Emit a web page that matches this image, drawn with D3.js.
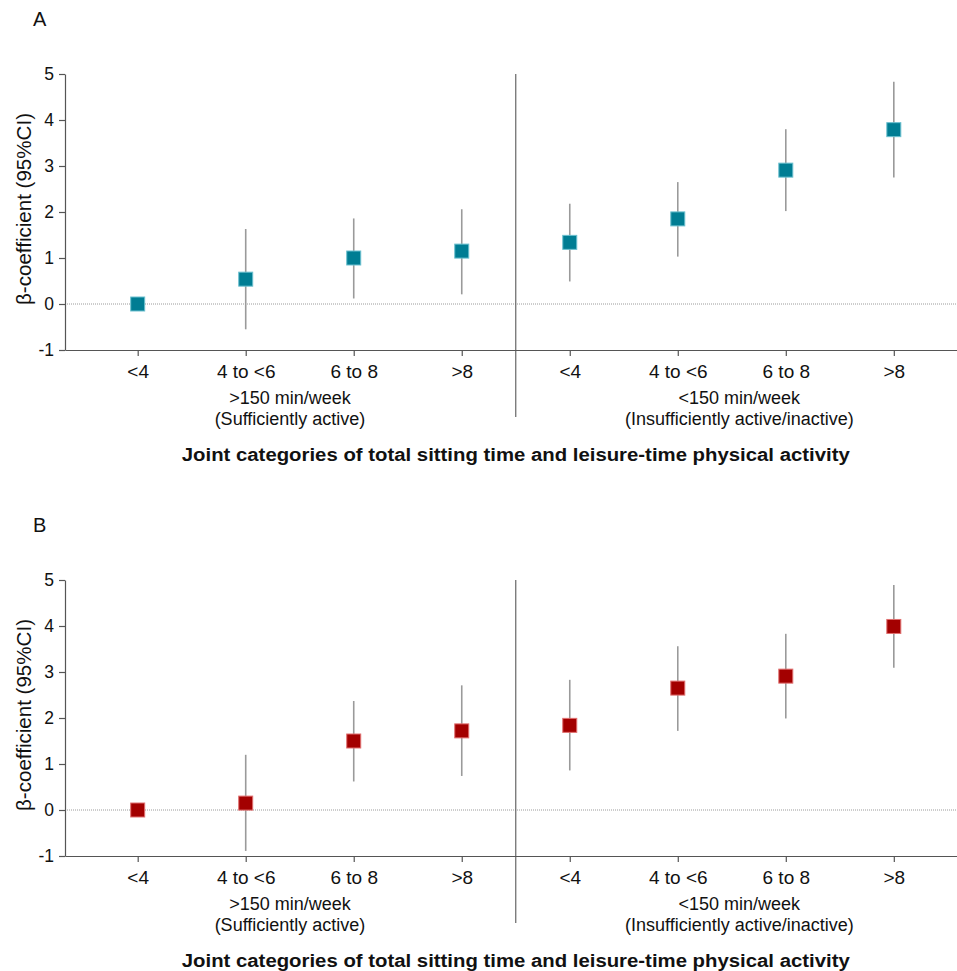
<!DOCTYPE html>
<html>
<head>
<meta charset="utf-8">
<script src="https://cdn.jsdelivr.net/npm/d3@7"></script>
<style>
  html, body { margin: 0; padding: 0; background: #fff; }
  svg { display: block; }
  text { font-family: "Liberation Sans", Arial, sans-serif; fill: #111; }
</style>
</head>
<body>
<svg id="chart" width="957" height="971"></svg>
<script>
// ---- data ----
const categories = ["<4", "4 to <6", "6 to 8", ">8", "<4", "4 to <6", "6 to 8", ">8"];
const groupLines = [
  [">150 min/week", "(Sufficiently active)"],
  ["<150 min/week", "(Insufficiently active/inactive)"]
];
const groupPos = [1.41, 5.57];
const yTicks = [-1, 0, 1, 2, 3, 4, 5];
const xTitle = "Joint categories of total sitting time and leisure-time physical activity";
const yTitle = "β-coefficient (95%CI)";

const betaA  = [0, 0.54, 1.00, 1.15, 1.34, 1.85, 2.91, 3.79];
const lowerA = [0, -0.55, 0.12, 0.21, 0.49, 1.03, 2.02, 2.75];
const upperA = [0, 1.63, 1.86, 2.06, 2.18, 2.65, 3.80, 4.83];

const betaB  = [0, 0.15, 1.50, 1.72, 1.84, 2.65, 2.91, 3.99];
const lowerB = [0, -0.89, 0.62, 0.74, 0.86, 1.72, 1.99, 3.09];
const upperB = [0, 1.20, 2.37, 2.71, 2.83, 3.56, 3.83, 4.89];

// ---- drawing ----
const svg = d3.select("#chart");
const axisColor = "#555";
const x = d3.scaleLinear().domain([-0.673, 7.585]).range([65, 957]);

function panel(label, top, beta, lower, upper, fill, stroke) {
  const g = svg.append("g");
  const y = d3.scaleLinear().domain([-1, 5]).range([top + 276, top]);
  const base = y(-1);

  // panel label
  g.append("text").attr("x", 33).attr("y", top - 48).style("font-size", "20px").text(label);

  // zero line
  g.append("line")
    .attr("x1", x.range()[0]).attr("x2", x.range()[1])
    .attr("y1", y(0)).attr("y2", y(0))
    .attr("stroke", "#9a9a9a").attr("stroke-width", 1).attr("stroke-dasharray", "1,1");

  // divider
  g.append("line")
    .attr("x1", x(3.5)).attr("x2", x(3.5))
    .attr("y1", y(5)).attr("y2", base + 67)
    .attr("stroke", "#666").attr("stroke-width", 1.2);

  // y axis
  const ya = g.append("g").attr("transform", `translate(${x.range()[0]},0)`)
    .call(d3.axisLeft(y).tickValues(yTicks).tickFormat(d => String(d)).tickSize(6).tickSizeOuter(0).tickPadding(5));
  ya.selectAll("path,line").attr("stroke", axisColor).attr("stroke-width", 1.2);
  ya.selectAll("text").style("font-size", "17.5px").style("font-family", "Liberation Sans, Arial, sans-serif").attr("fill", "#111");

  // x axis
  const xa = g.append("g").attr("transform", `translate(0,${base})`)
    .call(d3.axisBottom(x).tickValues(d3.range(categories.length)).tickFormat(i => categories[i]).tickSize(6).tickSizeOuter(0).tickPadding(9));
  xa.selectAll("path,line").attr("stroke", axisColor).attr("stroke-width", 1.2);
  xa.selectAll("text").style("font-size", "19px").style("font-family", "Liberation Sans, Arial, sans-serif").attr("fill", "#111");

  // group labels
  groupLines.forEach((lines, gi) => {
    lines.forEach((t, li) => {
      g.append("text").attr("x", x(groupPos[gi])).attr("y", base + 53.5 + li * 21)
        .attr("text-anchor", "middle").style("font-size", "18px").text(t);
    });
  });

  // x title
  g.append("text").attr("x", x(3.5)).attr("y", base + 111)
    .attr("text-anchor", "middle").style("font-size", "18px").style("font-weight", "bold")
    .attr("textLength", 668).attr("lengthAdjust", "spacingAndGlyphs").text(xTitle);

  // y title
  g.append("text").attr("transform", `translate(31,${y(5) + 135}) rotate(-90)`)
    .attr("text-anchor", "middle").style("font-size", "20px")
    .attr("textLength", 192).attr("lengthAdjust", "spacingAndGlyphs").text(yTitle);

  // error bars
  const idx = d3.range(beta.length).filter(i => upper[i] !== lower[i]);
  g.selectAll(".ci").data(idx).join("line")
    .attr("x1", i => x(i)).attr("x2", i => x(i))
    .attr("y1", i => y(lower[i])).attr("y2", i => y(upper[i]))
    .attr("stroke", "#9a9a9a").attr("stroke-width", 1.6);

  // markers
  const s = 14;
  g.selectAll(".pt").data(d3.range(beta.length)).join("rect")
    .attr("x", i => x(i) - s / 2).attr("y", i => y(beta[i]) - s / 2)
    .attr("width", s).attr("height", s)
    .attr("fill", fill).attr("stroke", stroke).attr("stroke-width", 1);
}

panel("A", 74, betaA, lowerA, upperA, "#007d93", "#6cc0cf");
panel("B", 580, betaB, lowerB, upperB, "#a30000", "#e07070");
</script>
</body>
</html>
